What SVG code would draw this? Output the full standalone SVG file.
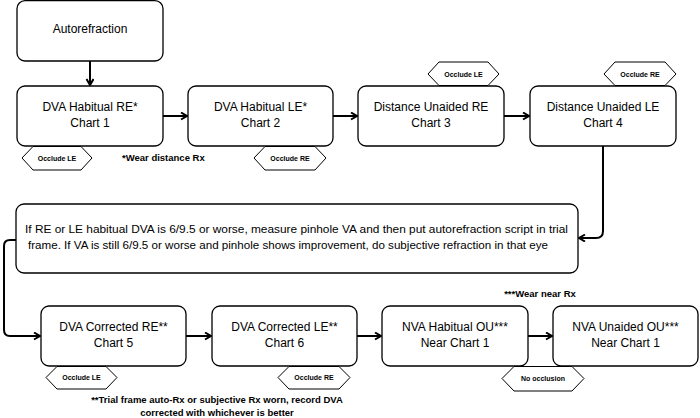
<svg xmlns="http://www.w3.org/2000/svg" width="700" height="418" viewBox="0 0 700 418">
<style>
  .box{fill:#fff;stroke:#000;stroke-width:1.3}
  .hex{fill:#fff;stroke:#000;stroke-width:1}
  .t{font-family:"Liberation Sans",Arial,sans-serif;font-size:12px;fill:#000;text-anchor:middle}
  .ht{font-family:"Liberation Sans",Arial,sans-serif;font-size:7px;font-weight:bold;fill:#000;text-anchor:middle}
  .fn{font-family:"Liberation Sans",Arial,sans-serif;font-size:9.5px;font-weight:bold;fill:#000}
  .bt{font-family:"Liberation Sans",Arial,sans-serif;font-size:11px;fill:#000}
  .c{fill:none;stroke:#000;stroke-width:2}
</style>
<defs>
  <marker id="arr" markerWidth="10" markerHeight="10" refX="7" refY="4" orient="auto" markerUnits="userSpaceOnUse">
    <path d="M1,0.5 L7,4 L1,7.5" fill="none" stroke="#000" stroke-width="2"/>
  </marker>
</defs>
<rect width="700" height="418" fill="#fff"/>
<g id="connectors">
  <path class="c" d="M90,61 V85" marker-end="url(#arr)"/>
  <path class="c" d="M163,116 H187" marker-end="url(#arr)"/>
  <path class="c" d="M333,116 H357" marker-end="url(#arr)"/>
  <path class="c" d="M504,116 H529" marker-end="url(#arr)"/>
  <path class="c" d="M603,146 V231 Q603,238 596,238 H579" marker-end="url(#arr)"/>
  <path class="c" d="M16,240 H10 Q4,240 4,246 V330 Q4,336 10,336 H40" marker-end="url(#arr)"/>
  <path class="c" d="M186,336 H211" marker-end="url(#arr)"/>
  <path class="c" d="M357,336 H381" marker-end="url(#arr)"/>
  <path class="c" d="M528,336 H552" marker-end="url(#arr)"/>
</g>
<g id="autorefraction">
  <rect class="box" x="17" y="0.7" width="146" height="60.3" rx="8"/>
  <text class="t" x="90" y="33">Autorefraction</text>
</g>
<g id="dva-habitual-re">
  <rect class="box" x="17" y="86" width="146" height="60" rx="8"/>
  <text class="t" x="90" y="111">DVA Habitual RE*</text>
  <text class="t" x="90" y="127">Chart 1</text>
</g>
<g id="dva-habitual-le">
  <rect class="box" x="188" y="86" width="145" height="60" rx="8"/>
  <text class="t" x="260.5" y="111">DVA Habitual LE*</text>
  <text class="t" x="260.5" y="127">Chart 2</text>
</g>
<g id="distance-unaided-re">
  <rect class="box" x="358" y="86" width="146" height="60" rx="8"/>
  <text class="t" x="431" y="111">Distance Unaided RE</text>
  <text class="t" x="431" y="127">Chart 3</text>
</g>
<g id="distance-unaided-le">
  <rect class="box" x="530" y="86" width="146" height="60" rx="8"/>
  <text class="t" x="603" y="111">Distance Unaided LE</text>
  <text class="t" x="603" y="127">Chart 4</text>
</g>
<g id="occlude-le-1">
  <polygon class="hex" points="22,158 33,146.5 81,146.5 92,158 81,170 33,170"/>
  <text class="ht" x="57" y="160.5">Occlude LE</text>
</g>
<g id="occlude-re-2">
  <polygon class="hex" points="254,158 265,146.5 315,146.5 326,158 315,170 265,170"/>
  <text class="ht" x="290" y="160.5">Occlude RE</text>
</g>
<g id="occlude-le-3">
  <polygon class="hex" points="428,74 439,62 488,62 499,74 488,85.5 439,85.5"/>
  <text class="ht" x="463.5" y="76.5">Occlude LE</text>
</g>
<g id="occlude-re-4">
  <polygon class="hex" points="604,74 615,62 665,62 676,74 665,85.5 615,85.5"/>
  <text class="ht" x="640" y="76.5">Occlude RE</text>
</g>
<g id="note-distance">
  <text class="fn" x="122" y="160.5">*Wear distance Rx</text>
</g>
<g id="pinhole-box">
  <rect class="box" x="16" y="204" width="562" height="69" rx="8"/>
  <text class="bt" x="25" y="233" textLength="543" lengthAdjust="spacingAndGlyphs">If RE or LE habitual DVA is 6/9.5 or worse, measure pinhole VA and then put autorefraction script in trial</text>
  <text class="bt" x="28" y="249" textLength="520" lengthAdjust="spacingAndGlyphs">frame. If VA is still 6/9.5 or worse and pinhole shows improvement, do subjective refraction in that eye</text>
</g>
<g id="note-near">
  <text class="fn" x="540" y="297" text-anchor="middle">***Wear near Rx</text>
</g>
<g id="dva-corrected-re">
  <rect class="box" x="41" y="306" width="145" height="60" rx="8"/>
  <text class="t" x="113.5" y="331">DVA Corrected RE**</text>
  <text class="t" x="113.5" y="347">Chart 5</text>
</g>
<g id="dva-corrected-le">
  <rect class="box" x="212" y="306" width="145" height="60" rx="8"/>
  <text class="t" x="284.5" y="331">DVA Corrected LE**</text>
  <text class="t" x="284.5" y="347">Chart 6</text>
</g>
<g id="nva-habitual-ou">
  <rect class="box" x="382" y="306" width="146" height="60" rx="8"/>
  <text class="t" x="455" y="331">NVA Habitual OU***</text>
  <text class="t" x="455" y="347">Near Chart 1</text>
</g>
<g id="nva-unaided-ou">
  <rect class="box" x="553" y="306" width="145" height="60" rx="8"/>
  <text class="t" x="625.5" y="331">NVA Unaided OU***</text>
  <text class="t" x="625.5" y="347">Near Chart 1</text>
</g>
<g id="occlude-le-5">
  <polygon class="hex" points="46,377.5 57,366.5 106,366.5 117,377.5 106,389 57,389"/>
  <text class="ht" x="81.5" y="380">Occlude LE</text>
</g>
<g id="occlude-re-6">
  <polygon class="hex" points="278,377.5 289,366.5 339,366.5 350,377.5 339,389 289,389"/>
  <text class="ht" x="314" y="380">Occlude RE</text>
</g>
<g id="no-occlusion">
  <polygon class="hex" points="502,378.5 514,366.5 572,366.5 584,378.5 572,391 514,391"/>
  <text class="ht" x="543" y="381">No occlusion</text>
</g>
<g id="note-corrected">
  <text class="fn" x="217" y="403" text-anchor="middle">**Trial frame auto-Rx or subjective Rx worn, record DVA</text>
  <text class="fn" x="217" y="416" text-anchor="middle">corrected with whichever is better</text>
</g>
</svg>
